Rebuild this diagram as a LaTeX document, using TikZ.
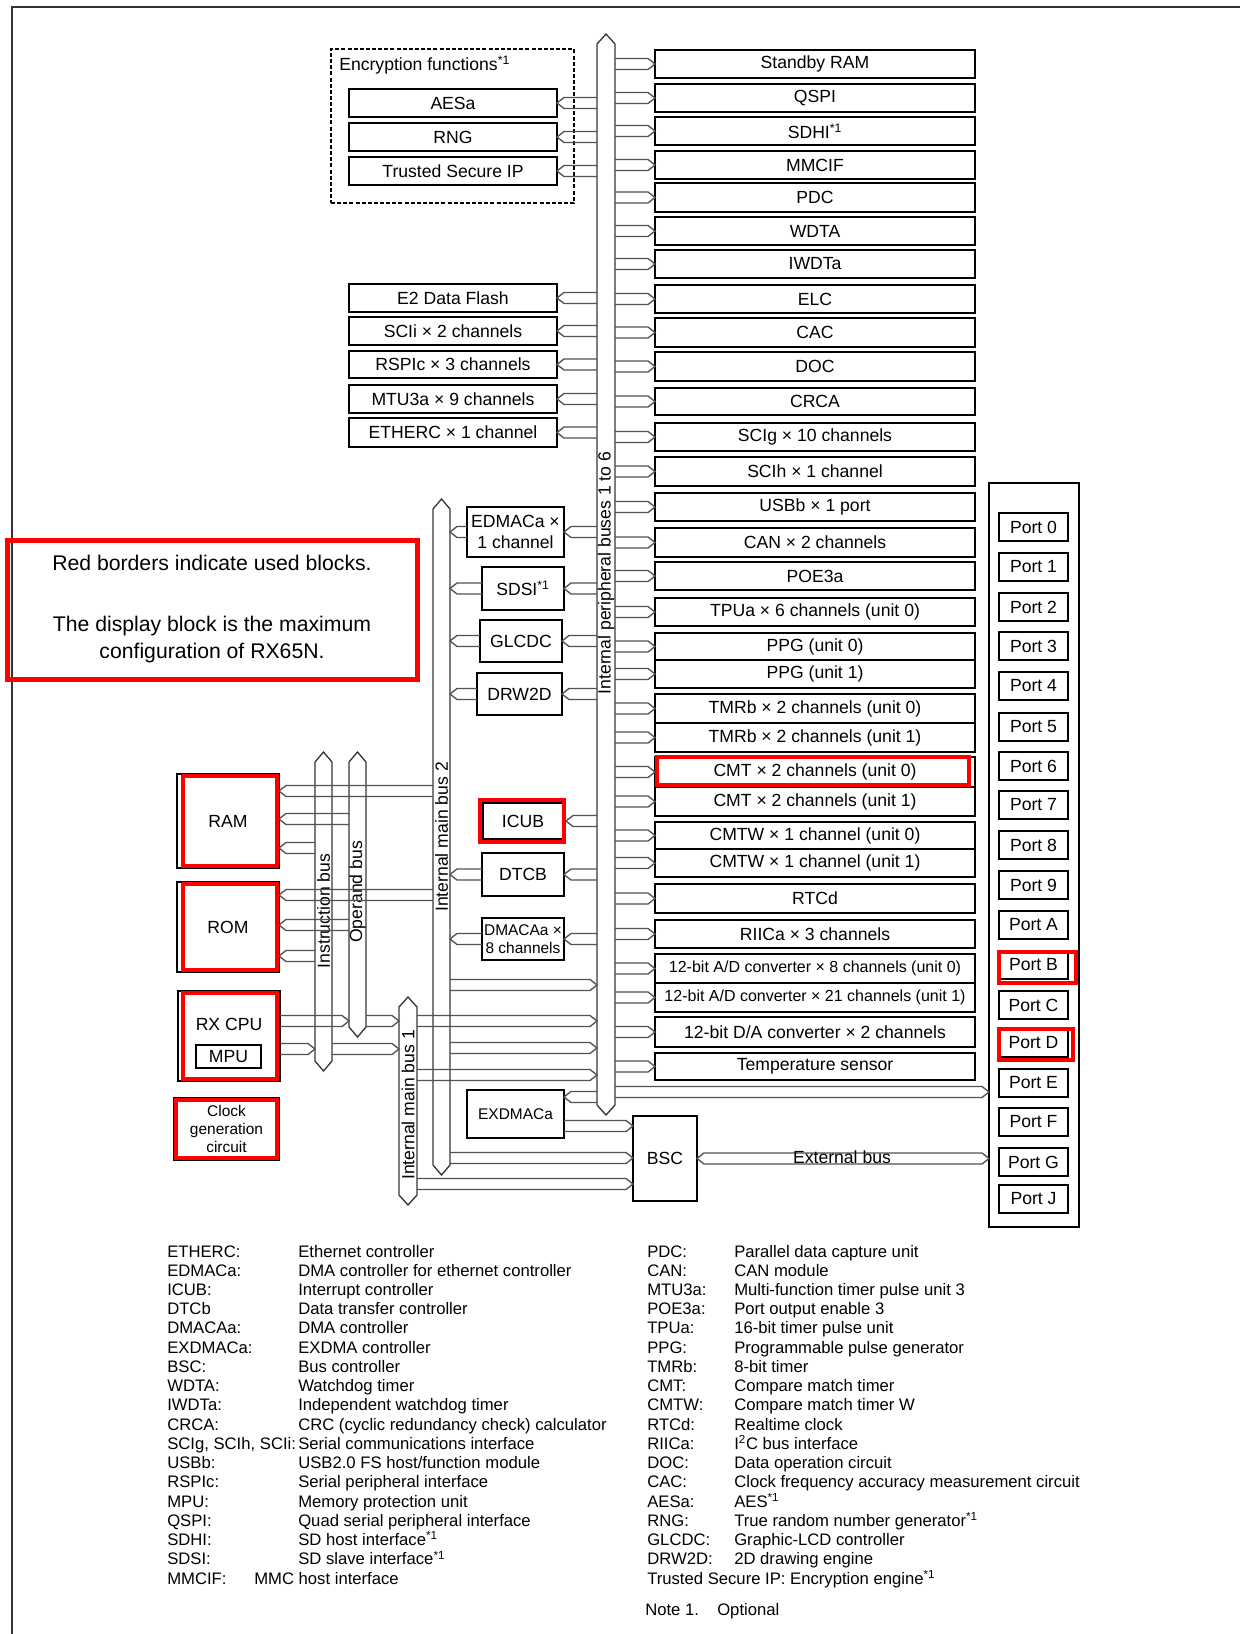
\documentclass[tikz,border=0pt]{standalone}
\usepackage{fontspec}
\setmainfont{Liberation Sans}
\usetikzlibrary{calc}
\newcommand\mainsz{\fontsize{13.2}{15.5}\selectfont}
\newcommand\smlsz{\fontsize{11.6}{13.4}\selectfont}
\newcommand\adsz{\fontsize{12}{14}\selectfont}
\newcommand\legsz{\fontsize{12.5}{14}\selectfont}
\newcommand\notesz{\fontsize{15.9}{19}\selectfont}
\tikzset{
  box/.style={draw=black, line width=1.1pt, inner sep=0pt, outer sep=0pt, align=center},
  conn/.style={draw=black!68, line width=1pt},
  busline/.style={draw=black!78, line width=1pt, fill=white},
  usedred/.style={draw=red, line width=3.2pt},
  lbl/.style={anchor=base west, inner sep=0pt, font=\legsz},
  buslbl/.style={rotate=90, inner sep=0pt, font=\mainsz},
}
% box by corners: [opts]{name}{x1}{y1}{x2}{y2}{text}
\newcommand\blk[7][]{\node[box,minimum width={(#5-#3)*0.75pt},minimum height={(#6-#4)*0.75pt},#1] (#2) at ({(#3+#5)/2},{(#4+#6)/2}) {#7};}
% vertical bus: {name}{xL}{xR}{ytop}{ybot}
\newcommand\vbus[5]{\draw[busline] (#2,#4+10) -- ({(#2+#3)/2},#4) -- (#3,#4+10) -- (#3,#5-10) -- ({(#2+#3)/2},#5) -- (#2,#5-10) -- cycle;
  \coordinate (#1L) at (#2,0); \coordinate (#1R) at (#3,0);}
% hollow arrow from #2 to tip #3
\newcommand\harrow[3][]{\draw[conn,#1] let \p1=#2, \p2=#3, \p3=($(\p2)!5.2pt!(\x1,\y2)$) in
  (\x1,\y2+4.1pt) -- (\x3,\y2+4.1pt) -- (\x2,\y2) -- (\x3,\y2-4.1pt) -- (\x1,\y2-4.1pt);}
\newcommand\dharrow[3][]{\draw[conn,#1] let \p1=#2, \p2=#3, \p3=($(\p2)!5.2pt!(\x1,\y2)$), \p4=($(\x1,\y2)!5.2pt!(\p2)$) in
  (\x1,\y2) -- (\x4,\y2+4.1pt) -- (\x3,\y2+4.1pt) -- (\x2,\y2) -- (\x3,\y2-4.1pt) -- (\x4,\y2-4.1pt) -- cycle;}
\newcommand\leg[4]{\node[lbl] (#1) at (#2,{1257+19.24*#3}) {#4};}
\newcommand\redmark[4]{\draw[usedred] (#1,#2) rectangle (#3,#4);}
\begin{document}
\begin{tikzpicture}[x=0.75pt,y=-0.75pt,font=\mainsz]
\fill[white] (0,0) rectangle (1240,1634);
\useasboundingbox (0,0) rectangle (1240,1634);
% outer frame
\draw[line width=1.2pt, black!80] (12,1634) -- (12,7) -- (1240,7);

% ---------- buses ----------
\vbus{pb}{597}{615}{34}{1115}
\vbus{bb}{433}{450}{499}{1175}
\vbus{ba}{399}{417}{997}{1205}
\vbus{ins}{315}{332}{752}{1071}
\vbus{op}{349}{366}{752}{1037}
\node[buslbl] (lblpb) at (606,573) {Internal peripheral buses 1 to 6};
\node[buslbl] (lblbb) at (441.5,837) {Internal main bus 2};
\node[buslbl] (lblba) at (408,1105) {Internal main bus 1};
\node[buslbl] (lblins) at (323.5,911) {Instruction bus};
\node[buslbl] (lblop) at (357.5,892) {Operand bus};

% ---------- encryption group ----------
\blk[dashed, dash pattern=on 3pt off 1.6pt, line width=1.4pt]{encbox}{331}{49}{574}{203}{}
\node[anchor=west, inner sep=0pt] (enclbl) at (339,65) {Encryption functions\textsuperscript{*1}};
\blk{aes}{349}{89}{557}{117}{AESa}
\blk{rng}{349}{123}{557}{151}{RNG}
\blk{tsip}{349}{157}{557}{185}{Trusted Secure IP}
\blk{e2}{349}{284}{557}{312}{E2 Data Flash}
\blk{scii}{349}{317}{557}{345}{SCIi × 2 channels}
\blk{rspi}{349}{351}{557}{378}{RSPIc × 3 channels}
\blk{mtu}{349}{385}{557}{413}{MTU3a × 9 channels}
\blk{eth}{349}{418}{557}{447}{ETHERC × 1 channel}
\foreach \nm in {aes,rng,tsip,e2,scii,rspi,mtu,eth}{\harrow{(pbL|-\nm.east)}{(\nm.east)}}

% ---------- right peripheral column ----------
\blk{sram}{655}{50}{975}{78}{Standby RAM}
\blk{qspi}{655}{84}{975}{112}{QSPI}
\blk{sdhi}{655}{117}{975}{145}{SDHI\textsuperscript{*1}}
\blk{mmcif}{655}{151}{975}{179}{MMCIF}
\blk{pdc}{655}{183}{975}{212}{PDC}
\blk{wdta}{655}{217}{975}{245}{WDTA}
\blk{iwdta}{655}{250}{975}{278}{IWDTa}
\blk{elc}{655}{285}{975}{313}{ELC}
\blk{cac}{655}{318}{975}{347}{CAC}
\blk{doc}{655}{352}{975}{381}{DOC}
\blk{crca}{655}{388}{975}{415}{CRCA}
\blk{scig}{655}{423}{975}{451}{SCIg × 10 channels}
\blk{scih}{655}{457}{975}{486}{SCIh × 1 channel}
\blk{usbb}{655}{493}{975}{521}{USBb × 1 port}
\blk{can}{655}{528}{975}{557}{CAN × 2 channels}
\blk{poe}{655}{562}{975}{590}{POE3a}
\blk{tpu}{655}{598}{975}{626}{TPUa × 6 channels (unit 0)}
\blk{ppga}{655}{633}{975}{660}{PPG (unit 0)}
\blk{ppgb}{655}{660}{975}{688}{PPG (unit 1)}
\blk{tmra}{655}{694}{975}{723}{TMRb × 2 channels (unit 0)}
\blk{tmrb}{655}{723}{975}{752}{TMRb × 2 channels (unit 1)}
\blk{cmta}{655}{757}{975}{787}{CMT × 2 channels (unit 0)}
\blk{cmtb}{655}{787}{975}{816}{CMT × 2 channels (unit 1)}
\blk{cmtwa}{655}{822}{975}{849}{CMTW × 1 channel (unit 0)}
\blk{cmtwb}{655}{849}{975}{877}{CMTW × 1 channel (unit 1)}
\blk{rtc}{655}{884}{975}{913}{RTCd}
\blk{riic}{655}{920}{975}{948}{RIICa × 3 channels}
\blk[font=\adsz]{ada}{655}{954}{975}{983}{12-bit A/D converter × 8 channels (unit 0)}
\blk[font=\adsz]{adb}{655}{983}{975}{1012}{12-bit A/D converter × 21 channels (unit 1)}
\blk{da}{655}{1017}{975}{1047}{12-bit D/A converter × 2 channels}
\blk{temp}{655}{1053}{975}{1080}{Temperature sensor}
\foreach \nm in {sram,qspi,sdhi,mmcif,pdc,wdta,iwdta,elc,cac,doc,crca,scig,scih,usbb,can,poe,tpu,ppga,ppgb,tmra,tmrb,cmta,cmtb,cmtwa,cmtwb,rtc,riic,ada,adb,da,temp}{\harrow{(pbR|-\nm.west)}{(\nm.west)}}

% ---------- bus 2 peripherals ----------
\blk{edmac}{467}{507}{564}{557}{EDMACa ×\\1 channel}
\blk{sdsi}{482}{567}{564}{610}{SDSI\textsuperscript{*1}}
\blk{glcdc}{480}{620}{562}{662}{GLCDC}
\blk{drw}{477}{673}{562}{715}{DRW2D}
\blk{icub}{483}{803}{563}{839}{ICUB}
\blk{dtcb}{482}{853}{564}{896}{DTCB}
\blk[font=\smlsz]{dmac}{482}{918}{564}{960}{DMACAa ×\\8 channels}
\blk[font=\smlsz]{exdmac}{467}{1090}{564}{1138}{EXDMACa}
\blk{bsc}{633}{1116}{697}{1201}{BSC}
\foreach \nm in {edmac,sdsi,glcdc,drw,dtcb,dmac}{\harrow{(\nm.west)}{(bbR|-\nm.west)}\harrow{(pbL|-\nm.east)}{(\nm.east)}}
\harrow{(pbL|-icub.east)}{($(icub.east)+(3,0)$)}

% rows between main buses, peripheral bus and BSC
\coordinate (ra) at (0,985);
\coordinate (rb) at (0,1021);
\coordinate (rc) at (0,1048);
\coordinate (rd) at (0,1075);
\coordinate (re) at (0,1097);
\coordinate (rf) at (0,1126);
\coordinate (rg) at (0,1158);
\coordinate (rh) at (0,1184);
\coordinate (ri) at (0,1092);
\harrow{(bbR|-ra)}{(pbL|-ra)}
\harrow{(baR|-rb)}{(pbL|-rb)}
\harrow{(bbR|-rc)}{(pbL|-rc)}
\harrow{(baR|-rd)}{(pbL|-rd)}
\harrow{(pbL|-re)}{(exdmac.east|-re)}
\harrow{(exdmac.east|-rf)}{(bsc.west|-rf)}
\harrow{(bbR|-rg)}{(bsc.west|-rg)}
\harrow{(baR|-rh)}{(bsc.west|-rh)}

% ---------- ports ----------
\blk{ports}{989}{483}{1079}{1227}{}
\foreach \t/\l in {513/0,553/1,593/2,632/3,672/4,713/5,752/6,791/7,831/8,871/9,911/A,951/B,991/C,1029/D,1069/E,1108/F,1148/G,1185/J}{\blk{port\l}{999}{\t}{1068}{\t+28}{Port \l}}
\harrow{(pbR|-ri)}{(ports.west|-ri)}
\dharrow{(bsc.east)}{(ports.west|-bsc.east)}
\node (extlbl) at (842,1157) {External bus};

% ---------- CPU side ----------
\blk{ram}{177}{774}{279}{868}{RAM}
\blk{rom}{177}{882}{279}{972}{ROM}
\blk{cpu}{178}{991}{280}{1081}{}
\node (cpulbl) at (229,1024) {RX CPU};
\blk{mpu}{196}{1045}{261}{1068}{MPU}
\blk[font=\smlsz]{clk}{174}{1098}{279}{1160}{Clock\\generation\\circuit}
\coordinate (ma) at (0,791);
\coordinate (mb) at (0,819);
\coordinate (mc) at (0,848);
\coordinate (oa) at (0,895);
\coordinate (ob) at (0,925);
\coordinate (oc) at (0,956);
\coordinate (ca) at (0,1021);
\coordinate (cb) at (0,1049);
\harrow{(bbL|-ma)}{(ram.east|-ma)}
\harrow{(opL|-mb)}{(ram.east|-mb)}
\harrow{(insL|-mc)}{(ram.east|-mc)}
\harrow{(bbL|-oa)}{(rom.east|-oa)}
\harrow{(opL|-ob)}{(rom.east|-ob)}
\harrow{(insL|-oc)}{(rom.east|-oc)}
\harrow{(cpu.east|-ca)}{(opL|-ca)}
\harrow{(opR|-ca)}{(baL|-ca)}
\harrow{(cpu.east|-cb)}{(insL|-cb)}
\harrow{(insR|-cb)}{(baL|-cb)}

% ---------- used-block red marks ----------
\redmark{183}{776}{277}{866}
\redmark{183}{884}{277}{970}
\redmark{183}{993}{277}{1079}
\redmark{176}{1100}{277}{1158}
\redmark{480}{800}{564}{842}
\redmark{657}{757}{969}{785}
\redmark{999}{952}{1076}{983}
\redmark{999}{1029}{1073}{1060}

% ---------- annotation ----------
\draw[red, line width=3.6pt] (7.5,540.5) rectangle (417.5,679.5);
\node[font=\notesz] (note1) at (212,563) {Red borders indicate used blocks.};
\node[font=\notesz] (note2) at (212,626) {The display block is the maximum};
\node[font=\notesz] (note3) at (212,653) {configuration of RX65N.};

% ---------- legend ----------
\leg{la0}{167}{0}{ETHERC:}\leg{ld0}{298}{0}{Ethernet controller}
\leg{la1}{167}{1}{EDMACa:}\leg{ld1}{298}{1}{DMA controller for ethernet controller}
\leg{la2}{167}{2}{ICUB:}\leg{ld2}{298}{2}{Interrupt controller}
\leg{la3}{167}{3}{DTCb}\leg{ld3}{298}{3}{Data transfer controller}
\leg{la4}{167}{4}{DMACAa:}\leg{ld4}{298}{4}{DMA controller}
\leg{la5}{167}{5}{EXDMACa:}\leg{ld5}{298}{5}{EXDMA controller}
\leg{la6}{167}{6}{BSC:}\leg{ld6}{298}{6}{Bus controller}
\leg{la7}{167}{7}{WDTA:}\leg{ld7}{298}{7}{Watchdog timer}
\leg{la8}{167}{8}{IWDTa:}\leg{ld8}{298}{8}{Independent watchdog timer}
\leg{la9}{167}{9}{CRCA:}\leg{ld9}{298}{9}{CRC (cyclic redundancy check) calculator}
\leg{la10}{167}{10}{SCIg, SCIh, SCIi:}\leg{ld10}{298}{10}{Serial communications interface}
\leg{la11}{167}{11}{USBb:}\leg{ld11}{298}{11}{USB2.0 FS host/function module}
\leg{la12}{167}{12}{RSPIc:}\leg{ld12}{298}{12}{Serial peripheral interface}
\leg{la13}{167}{13}{MPU:}\leg{ld13}{298}{13}{Memory protection unit}
\leg{la14}{167}{14}{QSPI:}\leg{ld14}{298}{14}{Quad serial peripheral interface}
\leg{la15}{167}{15}{SDHI:}\leg{ld15}{298}{15}{SD host interface\textsuperscript{*1}}
\leg{la16}{167}{16}{SDSI:}\leg{ld16}{298}{16}{SD slave interface\textsuperscript{*1}}
\leg{la17}{167}{17}{MMCIF:}\leg{ld17}{254}{17}{MMC host interface}

\leg{ra0}{647}{0}{PDC:}\leg{rd0}{734}{0}{Parallel data capture unit}
\leg{ra1}{647}{1}{CAN:}\leg{rd1}{734}{1}{CAN module}
\leg{ra2}{647}{2}{MTU3a:}\leg{rd2}{734}{2}{Multi-function timer pulse unit 3}
\leg{ra3}{647}{3}{POE3a:}\leg{rd3}{734}{3}{Port output enable 3}
\leg{ra4}{647}{4}{TPUa:}\leg{rd4}{734}{4}{16-bit timer pulse unit}
\leg{ra5}{647}{5}{PPG:}\leg{rd5}{734}{5}{Programmable pulse generator}
\leg{ra6}{647}{6}{TMRb:}\leg{rd6}{734}{6}{8-bit timer}
\leg{ra7}{647}{7}{CMT:}\leg{rd7}{734}{7}{Compare match timer}
\leg{ra8}{647}{8}{CMTW:}\leg{rd8}{734}{8}{Compare match timer W}
\leg{ra9}{647}{9}{RTCd:}\leg{rd9}{734}{9}{Realtime clock}
\leg{ra10}{647}{10}{RIICa:}\leg{rd10}{734}{10}{I\textsuperscript{2}C bus interface}
\leg{ra11}{647}{11}{DOC:}\leg{rd11}{734}{11}{Data operation circuit}
\leg{ra12}{647}{12}{CAC:}\leg{rd12}{734}{12}{Clock frequency accuracy measurement circuit}
\leg{ra13}{647}{13}{AESa:}\leg{rd13}{734}{13}{AES\textsuperscript{*1}}
\leg{ra14}{647}{14}{RNG:}\leg{rd14}{734}{14}{True random number generator\textsuperscript{*1}}
\leg{ra15}{647}{15}{GLCDC:}\leg{rd15}{734}{15}{Graphic-LCD controller}
\leg{ra16}{647}{16}{DRW2D:}\leg{rd16}{734}{16}{2D drawing engine}
\leg{ra17}{647}{17}{Trusted Secure IP: Encryption engine\textsuperscript{*1}}
\node[lbl] (nt1) at (645,1615) {Note 1.};
\node[lbl] (nt2) at (717,1615) {Optional};
\end{tikzpicture}
\end{document}
